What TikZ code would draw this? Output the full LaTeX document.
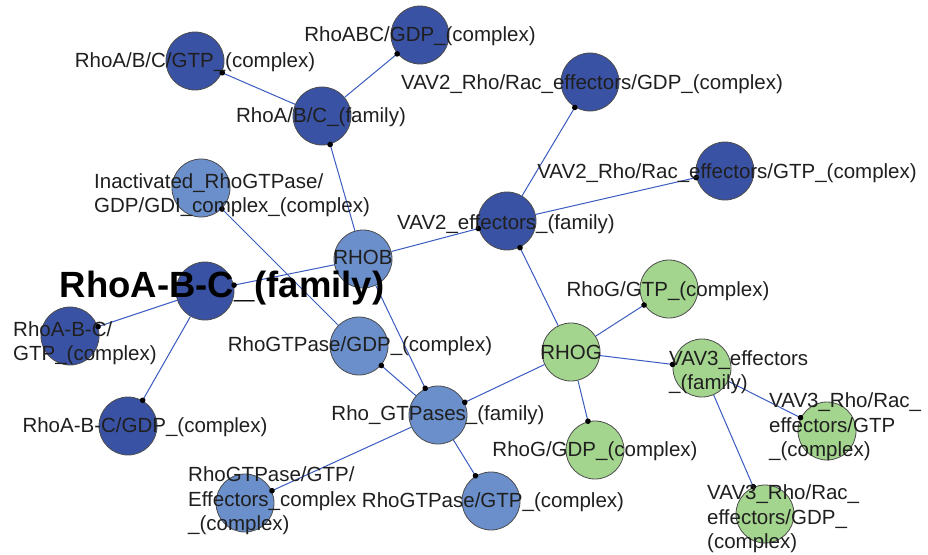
\documentclass[tikz,border=0pt]{standalone}
\usepackage{fontspec}
\setmainfont{Liberation Sans}
\usetikzlibrary{arrows.meta}
\definecolor{dkblue}{HTML}{3A52A3}
\definecolor{ltblue}{HTML}{6A8FCB}
\definecolor{grn}{HTML}{A4D58F}
\definecolor{edgeblue}{HTML}{3A5BBF}
\begin{document}
\begin{tikzpicture}[x=1pt,y=-1pt,
  ent/.style={circle, draw=black!70, line width=0.8pt, minimum size=58pt, inner sep=0pt},
  dk/.style={ent, fill=dkblue},
  lt/.style={ent, fill=ltblue},
  gr/.style={ent, fill=grn},
  link/.style={draw=edgeblue, line width=1pt, -{Circle[length=5.5pt, color=black]}, shorten >=-2.5pt},
  lbl/.style={font=\fontsize{20.5}{24.5}\selectfont, inner sep=0pt, text=black!88},
  lblL/.style={lbl, align=left, anchor=west}]
\useasboundingbox (0,0) rectangle (928,554);

% entities
\node[dk] (abcGTP)  at (195,61)  {};
\node[dk] (abcGDP)  at (420,35)  {};
\node[dk] (famABC)  at (322,116) {};
\node[lt] (inact)   at (201,188) {};
\node[lt] (rhob)    at (363,259) {};
\node[dk] (vavgdp)  at (590,82)  {};
\node[dk] (vavgtp)  at (725,171) {};
\node[dk] (vavfam)  at (507,221) {};
\node[dk] (bigfam)  at (205,291) {};
\node[dk] (bgtp)    at (70,336)  {};
\node[dk] (bgdp)    at (128,426) {};
\node[lt] (rgdp)    at (359,346) {};
\node[lt] (rhogtpases) at (438,415) {};
\node[lt] (eff)     at (245,503) {};
\node[lt] (rgtp)    at (491,501) {};
\node[gr] (rhoggdp) at (595,450) {};
\node[gr] (rhoggtp) at (669,289) {};
\node[gr] (rhog)    at (571,352) {};
\node[gr] (vthree)  at (702,368) {};
\node[gr] (vthreegtp) at (827,431) {};
\node[gr] (vthreegdp) at (765,514) {};

% interactions
\draw[link] (famABC) -- (abcGTP);
\draw[link] (famABC) -- (abcGDP);
\draw[link] (rhob) -- (famABC);
\draw[link] (rhob) -- (vavfam);
\draw[link] (vavfam) -- (vavgdp);
\draw[link] (vavfam) -- (vavgtp);
\draw[link] (rhog) -- (vavfam);
\draw[link] (rhob) -- (bigfam);
\draw[link] (rgdp) -- (inact);
\draw[link] (rhob) -- (rhogtpases);
\draw[link] (rhogtpases) -- (rgdp);
\draw[link] (rhog) -- (rhogtpases);
\draw[link] (rhogtpases) -- (eff);
\draw[link] (rhogtpases) -- (rgtp);
\draw[link] (bigfam) -- (bgtp);
\draw[link] (bigfam) -- (bgdp);
\draw[link] (rhog) -- (rhoggtp);
\draw[link] (rhog) -- (rhoggdp);
\draw[link] (rhog) -- (vthree);
\draw[link] (vthree) -- (vthreegtp);
\draw[link] (vthree) -- (vthreegdp);

% labels
\node[lbl] (l1) at (195,62) {RhoA/B/C/GTP\_(complex)};
\node[lbl] (l2) at (420,36) {RhoABC/GDP\_(complex)};
\node[lbl] (l3) at (321,117) {RhoA/B/C\_(family)};
\node[lblL] (l4) at (94,195) {Inactivated\_RhoGTPase/\\GDP/GDI\_complex\_(complex)};
\node[lbl] (l5) at (363,257) {RHOB};
\node[lbl] (l6) at (592,84) {VAV2\_Rho/Rac\_effectors/GDP\_(complex)};
\node[lbl] (l7) at (727,173) {VAV2\_Rho/Rac\_effectors/GTP\_(complex)};
\node[lbl] (l8) at (506,224) {VAV2\_effectors\_(family)};
\node[lbl, font=\fontsize{36.5}{40}\selectfont\bfseries, text=black] (l9) at (222,288) {RhoA-B-C\_(family)};
\node[lblL] (l10) at (13,343) {RhoA-B-C/\\GTP\_(complex)};
\node[lbl] (l11) at (145,427) {RhoA-B-C/GDP\_(complex)};
\node[lbl] (l12) at (360,346) {RhoGTPase/GDP\_(complex)};
\node[lbl] (l13) at (438,415) {Rho\_GTPases\_(family)};
\node[lblL] (l14) at (188,501) {RhoGTPase/GTP/\\Effectors\_complex\\\_(complex)};
\node[lbl] (l15) at (493,502) {RhoGTPase/GTP\_(complex)};
\node[lbl] (l16) at (595,451) {RhoG/GDP\_(complex)};
\node[lbl] (l17) at (668,291) {RhoG/GTP\_(complex)};
\node[lbl] (l18) at (571,352) {RHOG};
\node[lblL] (l19) at (669,372) {VAV3\_effectors\\\_(family)};
\node[lblL] (l20) at (769,427) {VAV3\_Rho/Rac\_\\effectors/GTP\\\_(complex)};
\node[lblL] (l21) at (707,519) {VAV3\_Rho/Rac\_\\effectors/GDP\_\\(complex)};
\end{tikzpicture}
\end{document}
